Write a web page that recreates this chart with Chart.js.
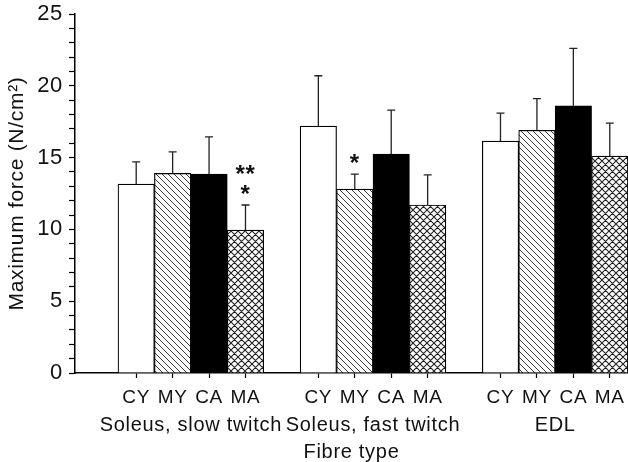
<!DOCTYPE html>
<html>
<head>
<meta charset="utf-8">
<script src="https://cdn.jsdelivr.net/npm/chart.js@4/dist/chart.umd.min.js"></script>
<style>
  html, body { margin: 0; padding: 0; background: #fff; }
</style>
</head>
<body>
<canvas id="chart" width="628" height="462"></canvas>
<script>
// Muscle groups and fibre types
const groups = ['Soleus, slow twitch', 'Soleus, fast twitch', 'EDL'];
const fibreTypes = ['CY', 'MY', 'CA', 'MA'];

// Mean maximum force (N/cm²), one value per group
const meanCY = [13.15, 17.2, 16.15];
const meanMY = [13.9, 12.8, 16.9];
const meanCA = [13.85, 15.25, 18.6];
const meanMA = [9.95, 11.7, 15.1];

// Upper error bar length, one value per group
const errCY = [1.55, 3.5, 1.95];
const errMY = [1.5, 1.05, 2.2];
const errCA = [2.6, 3.05, 4.0];
const errMA = [1.75, 2.1, 2.3];

// Significance marks: group, fibre type, lines from top to bottom
const marks = [
  { group: 0, type: 3, lines: ['**', '*'] },
  { group: 1, type: 1, lines: ['*'] }
];

const means = [meanCY, meanMY, meanCA, meanMA];
const errs = [errCY, errMY, errCA, errMA];

// each group takes 4 bar slots plus one empty slot
const slot = (g, s) => g * 5 + s;

const FONT = "'Liberation Sans', Arial, Helvetica, sans-serif";
const INK = '#111';

// Build fill patterns for hatched bars
function makePattern(kind) {
  const size = kind === 'diag' ? 6 : 7;
  const c = document.createElement('canvas');
  c.width = size;
  c.height = size;
  const g = c.getContext('2d');
  g.fillStyle = '#fff';
  g.fillRect(0, 0, size, size);
  g.strokeStyle = '#222';
  g.lineWidth = kind === 'diag' ? 0.9 : 1.1;
  g.beginPath();
  for (let a = -size; a <= size; a += size) {
    g.moveTo(a, 0);
    g.lineTo(a + size, size);
    if (kind === 'cross') {
      g.moveTo(a + size, 0);
      g.lineTo(a, size);
    }
  }
  g.stroke();
  return g.createPattern(c, 'repeat');
}

const fills = ['#ffffff', makePattern('diag'), '#000000', makePattern('cross')];

const datasets = fibreTypes.map((name, s) => ({
  label: name,
  data: means[s].map((v, g) => ({ x: slot(g, s), y: v })),
  backgroundColor: fills[s],
  borderColor: '#000',
  borderWidth: 1.2,
  barPercentage: 1,
  categoryPercentage: 1
}));

// tick positions and texts for the fibre type axis
const tickPositions = [];
const tickText = {};
groups.forEach((_, g) => {
  fibreTypes.forEach((t, s) => {
    tickPositions.push(slot(g, s));
    tickText[slot(g, s)] = t;
  });
});

// slightly wider letter spacing, like the printed figure
const spacing = {
  id: 'spacing',
  beforeUpdate(chart) { chart.ctx.letterSpacing = '0.7px'; },
  beforeDraw(chart) { chart.ctx.letterSpacing = '0.7px'; }
};

// Upper error bars drawn from the y scale
const errorBars = {
  id: 'errorBars',
  afterDatasetsDraw(chart) {
    const ctx = chart.ctx;
    const y = chart.scales.y;
    ctx.save();
    ctx.strokeStyle = '#222';
    ctx.lineWidth = 1.3;
    chart.data.datasets.forEach((ds, i) => {
      chart.getDatasetMeta(i).data.forEach((bar, j) => {
        const top = y.getPixelForValue(means[i][j] + errs[i][j]);
        ctx.beginPath();
        ctx.moveTo(bar.x, bar.y);
        ctx.lineTo(bar.x, top);
        ctx.moveTo(bar.x - 4, top);
        ctx.lineTo(bar.x + 4, top);
        ctx.stroke();
      });
    });
    ctx.restore();
  }
};

// Asterisks above the error bars
const sigMarks = {
  id: 'sigMarks',
  afterDatasetsDraw(chart) {
    const ctx = chart.ctx;
    const x = chart.scales.x;
    const y = chart.scales.y;
    ctx.save();
    ctx.fillStyle = INK;
    ctx.font = 'bold 24px ' + FONT;
    ctx.textAlign = 'center';
    ctx.textBaseline = 'alphabetic';
    marks.forEach(m => {
      const px = x.getPixelForValue(slot(m.group, m.type));
      const top = y.getPixelForValue(means[m.type][m.group] + errs[m.type][m.group]);
      const n = m.lines.length;
      m.lines.forEach((txt, k) => {
        const cy = top - 17 - (n - 1 - k) * 20;
        ctx.fillText(txt, px, cy + 14);
      });
    });
    ctx.restore();
  }
};

const xMin = -1.68;
const xMax = 13.5;

new Chart(document.getElementById('chart'), {
  type: 'bar',
  data: { datasets },
  options: {
    responsive: false,
    animation: false,
    devicePixelRatio: 1,
    layout: { padding: { top: 14, right: 0, bottom: 3, left: 0 } },
    plugins: {
      legend: { display: false },
      tooltip: { enabled: false }
    },
    scales: {
      x: {
        type: 'linear',
        position: 'bottom',
        offset: false,
        min: xMin,
        max: xMax,
        stacked: true,
        afterBuildTicks: axis => { axis.ticks = tickPositions.map(v => ({ value: v })); },
        afterFit: s => { s.paddingLeft = 0; s.paddingRight = 0; s.height = 34; },
        ticks: {
          autoSkip: false,
          maxRotation: 0,
          padding: 10,
          color: INK,
          font: { family: FONT, size: 19, lineHeight: 1 },
          callback: v => tickText[v]
        },
        grid: { offset: false, drawOnChartArea: false, tickLength: 5, color: '#000', tickWidth: 1.2 },
        border: { color: '#000', width: 1.5 }
      },
      x2: {
        type: 'linear',
        position: 'bottom',
        offset: false,
        min: xMin,
        max: xMax,
        afterBuildTicks: axis => { axis.ticks = groups.map((_, g) => ({ value: slot(g, 1.5) })); },
        afterFit: s => { s.paddingLeft = 0; s.paddingRight = 0; s.height = 52; },
        ticks: {
          autoSkip: false,
          maxRotation: 0,
          padding: 10,
          color: INK,
          font: { family: FONT, size: 20, lineHeight: 0.8 },
          callback: v => groups[Math.round((v - 1.5) / 5)]
        },
        grid: { offset: false, display: false, drawTicks: false },
        border: { display: false },
        title: {
          display: true,
          text: 'Fibre type',
          color: INK,
          font: { family: FONT, size: 20, lineHeight: 0.7 },
          padding: { top: 2, bottom: 0 }
        }
      },
      y: {
        min: 0,
        max: 25,
        afterBuildTicks: axis => {
          const t = [];
          for (let v = 0; v <= 25; v++) t.push({ value: v });
          axis.ticks = t;
        },
        afterFit: s => { s.width = 75; s.paddingTop = 0; s.paddingBottom = 0; },
        ticks: {
          autoSkip: false,
          padding: 6,
          color: INK,
          font: { family: FONT, size: 22 },
          callback: v => (v % 5 === 0 ? v : '')
        },
        grid: { drawOnChartArea: false, tickLength: 6, color: '#000', tickWidth: 1.2 },
        border: { color: '#000', width: 1.5 },
        title: {
          display: true,
          text: 'Maximum force (N/cm²)',
          color: INK,
          font: { family: FONT, size: 21 },
          padding: { top: 4.4, bottom: 0 }
        }
      }
    }
  },
  plugins: [spacing, errorBars, sigMarks]
});
</script>
</body>
</html>
